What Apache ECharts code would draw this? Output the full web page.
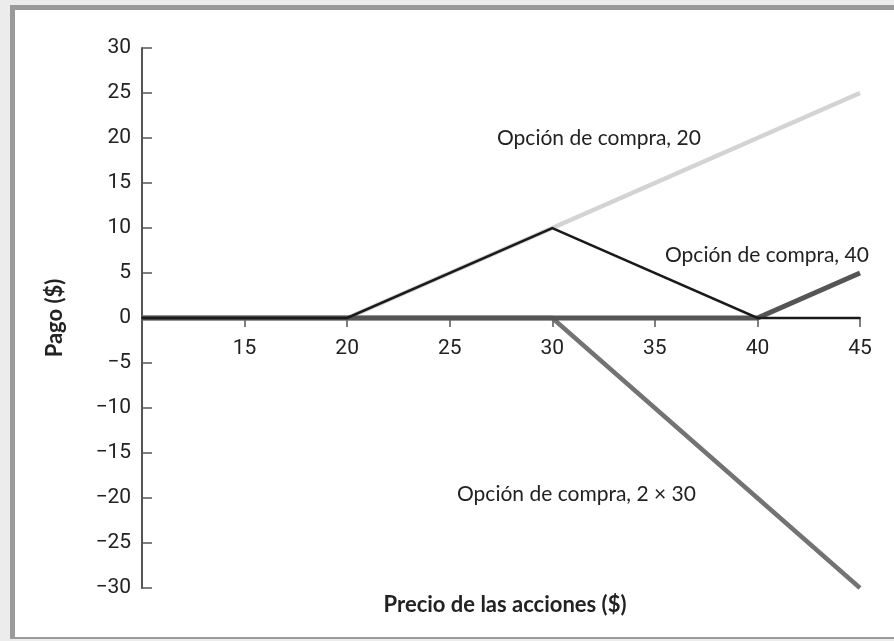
<!DOCTYPE html>
<html>
<head>
<meta charset="utf-8">
<script src="https://cdn.jsdelivr.net/npm/echarts@6/dist/echarts.min.js"></script>
<style>
  html, body { margin: 0; padding: 0; background: #ececec; }
  #frame {
    position: absolute; left: 10px; top: 5px; width: 884px; height: 634px;
    background: #ffffff; border-left: 5px solid #9a9a9c; border-top: 5px solid #9a9a9c;
    border-bottom: 2px solid #9a9a9c; box-sizing: border-box;
  }
  #chart { position: absolute; left: 0; top: 0; width: 894px; height: 641px; }
</style>
</head>
<body>
<div id="frame"></div>
<div id="chart"></div>
<script>
// Stock price on the x axis, payoff of each call position on the y axis
const precios    = [10, 20, 30, 40, 45];
const compra20   = [0, 0, 10, 20, 25];   // long call, strike 20
const compra40   = [0, 0, 0, 0, 5];      // long call, strike 40
const compra2x30 = [0, 0, 0, -20, -30];  // two short calls, strike 30
const cartera    = [0, 0, 10, 0, 0];     // combined payoff

const xTicks = [10, 15, 20, 25, 30, 35, 40, 45];
const yTicks = [-30, -25, -20, -15, -10, -5, 0, 5, 10, 15, 20, 25, 30];

const pairs = ys => precios.map((x, i) => [x, ys[i]]);

const numFont = 'Roboto, "Liberation Sans", sans-serif';
const textFont = 'Lato, "Open Sans", sans-serif';

const W = 894, H = 641;
const grid = { left: 142, right: 34, top: 48, bottom: 53 };
const yMin = yTicks[0], yMax = yTicks[yTicks.length - 1];
// lift the price axis from the bottom of the grid up to the zero line
const plotH = H - grid.top - grid.bottom;
const zeroFromBottom = plotH * (0 - yMin) / (yMax - yMin);

const chart = echarts.init(document.getElementById('chart'), null, { renderer: 'canvas' });

function lineSeries(name, ys, color, width, z) {
  return {
    name, type: 'line', data: pairs(ys), symbol: 'none', z,
    lineStyle: { color, width, cap: 'butt', join: 'miter' },
    emphasis: { disabled: true }, animation: false
  };
}

chart.setOption({
  backgroundColor: 'transparent',
  animation: false,
  grid: Object.assign({ containLabel: false }, grid),
  xAxis: {
    type: 'value', min: xTicks[0], max: xTicks[xTicks.length - 1], interval: 5,
    position: 'bottom', offset: -zeroFromBottom,
    axisLine: { show: true, onZero: false, lineStyle: { color: '#1a1a1a', width: 2 } },
    axisTick: { show: true, inside: false, length: 9, lineStyle: { color: '#555', width: 1.5 } },
    axisLabel: {
      margin: 20, color: '#222', fontFamily: numFont, fontSize: 21,
      formatter: v => (v === xTicks[0] ? '' : String(v))
    },
    splitLine: { show: false }
  },
  yAxis: {
    type: 'value', min: yMin, max: yMax, interval: 5,
    axisLine: { show: true, onZero: false, lineStyle: { color: '#555', width: 2 } },
    axisTick: { show: true, inside: true, length: 10, lineStyle: { color: '#555', width: 1.5 } },
    axisLabel: {
      margin: 11, color: '#222', fontFamily: numFont, fontSize: 21,
      formatter: v => (v < 0 ? '\u2212' + Math.abs(v) : String(v))
    },
    splitLine: { show: false },
    name: 'Pago ($)', nameLocation: 'middle', nameGap: 76, nameRotate: 90,
    nameTextStyle: { fontFamily: textFont, fontWeight: 'bold', fontSize: 22, color: '#222' }
  },
  series: [
    lineSeries('Opción de compra, 20', compra20, '#d3d3d3', 4.5, 2),
    lineSeries('Opción de compra, 2 × 30', compra2x30, '#737373', 4.5, 3),
    lineSeries('Opción de compra, 40', compra40, '#555555', 5, 4),
    lineSeries('Cartera', cartera, '#1a1a1a', 2.5, 5)
  ],
  graphic: [
    { type: 'text', left: 497, top: 128,
      style: { text: 'Opción de compra, 20', font: '21px ' + textFont, fill: '#222' } },
    { type: 'text', left: 665, top: 245,
      style: { text: 'Opción de compra, 40', font: '21px ' + textFont, fill: '#222' } },
    { type: 'text', left: 457, top: 484,
      style: { text: 'Opción de compra, 2 \u00d7 30', font: '21px ' + textFont, fill: '#222' } },
    { type: 'text', x: 505, y: 605,
      style: { text: 'Precio de las acciones ($)', font: 'bold 22px ' + textFont, fill: '#222',
               textAlign: 'center', textVerticalAlign: 'middle' } }
  ]
});
</script>
</body>
</html>
